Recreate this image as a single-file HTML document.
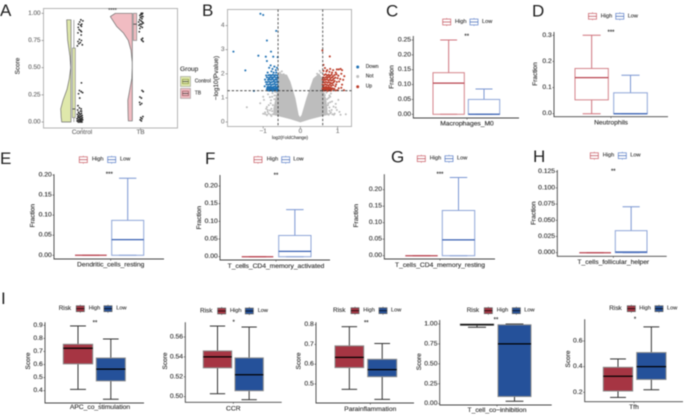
<!DOCTYPE html>
<html lang="en">
<head>
<meta charset="utf-8">
<title>Immune infiltration figure</title>
<style>
html,body{margin:0;padding:0;background:#fff;width:685px;height:415px;overflow:hidden}
svg{display:block;filter:blur(.42px);font-family:"Liberation Sans",sans-serif}
</style>
</head>
<body>
<svg id="fig" xmlns="http://www.w3.org/2000/svg" width="685" height="415" viewBox="0 0 685 415">
<rect width="685" height="415" fill="#fff"/>
<g font-size="17" fill="#222">
<text x="0" y="16">A</text>
<text x="202" y="16">B</text>
<text x="386" y="16.5">C</text>
<text x="532" y="16.5">D</text>
<text x="0" y="164">E</text>
<text x="205" y="164">F</text>
<text x="391" y="162.5">G</text>
<text x="533" y="162">H</text>
<text x="1" y="304">I</text>
</g>
</svg>
<script>
/* ---------- Panel A data ---------- */
const groupCategories = ['Control', 'TB'];
const scoreTicks = [0, 0.25, 0.5, 0.75, 1];
const controlDensityScore = [0, 0.04, 0.12, 0.2, 0.3, 0.4, 0.5, 0.6, 0.75, 0.85, 0.94];
const controlDensity = [9.3, 9.8, 10.3, 8, 4, 1.7, 0.3, 1, 3.3, 3.9, 4.3];
const tbDensityScore = [0.01, 0.1, 0.2, 0.3, 0.4, 0.5, 0.55, 0.66, 0.75, 0.82, 0.88, 0.97, 1];
const tbDensity = [4, 4.3, 4.5, 2.5, 0.5, 0.1, 0.1, 1.3, 4, 9, 15.7, 22, 17];
const controlBox = [0, 0.04, 0.12, 0.68, 0.94];
const tbBox = [0.75, 0.75, 0.9, 1, 1];
const controlScores = [.94,.93,.92,.90,.90,.89,.88,.87,.85,.84,.83,.82,.80,.76,.75,.74,.73,.72,.71,.70,.36,.29,.28,.27,.26,.22,.15,.13,.12,.11,.10,.09,.08,.07,.07,.06,.06,.05,.05,.04,.04,.03,.03,.03,.02,.02,.02,.01,.01,.01,0,0,0,0,.01,.02,.03,.04,.05,.06,.08,.1];
const controlJitter = [.3,1,-.1,.6,-.5,.2,.5,-.6,-.3,.2,.5,-.7,.4,-.2,.5,-.7,.1,-.4,.8,-.9,.5,-.2,.4,.9,-.5,-.1,-.7,-.2,.4,-.8,.2,-.5,.5,-.9,.1,-.4,.7,-.7,.3,-.2,.8,-1,.1,.6,-.5,.3,.9,-.8,0,.5,-.6,-.2,.3,.7,-1,-.3,.5,-.6,.1,.7,-.3,.5];
const tbScores = [1,1,.99,.99,.98,.97,.97,.96,.95,.94,.93,.92,.92,.91,.90,.90,.89,.88,.87,.86,.83,.77,.76,.75,.74,.29,.28,.23,.22,.18,.17,.16,.05,.04,.03,.02,.01];
const tbJitter = [.3,.7,.1,.5,-.2,.4,.8,0,.5,-.3,.2,-.6,.6,.9,-.1,.4,-.5,.1,.6,-.2,-.4,.7,.3,.5,.9,.5,.9,-.2,.3,-.3,.4,-.1,.8,.1,.5,-.1,.3];

/* ---------- Panel B data ---------- */
const volcanoFcTicks = [-1, 0, 1];
const volcanoPTicks = [0, 1, 2, 3, 4];
const fcThresholds = [-0.6, 0.6];
const pThreshold = [1.3];
const notEnvelopeFc = [-.59,-.366,-.277,-.142,-.054,-.01,.04,.17,.35,.5,.59,.59,.68,.72,.72,.5,.25,0,-.25,-.5,-.72,-.72,-.66,-.59,-.59];
const notEnvelopeP = [2.02,1.95,1.67,.98,.29,.18,.29,.98,1.8,2.0,1.8,1.3,1.0,.55,.3,.22,.12,0,.12,.22,.3,.55,1.0,1.3,1.9];
const notFc = [-1.44,-.82,-1,-1.08,-.88,1.22,1.02,.8,.89,.98,.75,.66,-.75,-.79,-.7,-.85,-.95,-.9,-.78,-.68,-.74,-.87,.74,.82,.78,.9,.85,.7,.95,1.05,.68,.63,-.63,-.65,-.55,-.5,.52,.55,.45,-.45,-.78,-.9,.82,.76,-.98,1.08,-.8,-.85,-.9,-.95,-1,-.76,-.82,-.88,.76,.8,.86,.92,.78,.84,-.74,-.8,.74,.8,-.7,-.76,.72,.78,-.92,.95];
const notP = [.61,1.03,1.05,.78,.5,.32,.92,1.05,.64,.5,.78,1.12,1.2,.9,1.1,.7,.4,.28,.55,1.25,.32,1.15,.33,.4,.6,.3,.85,1.22,.75,.42,.85,1.2,1.22,1.1,2.05,2.1,2.12,2.05,2.0,1.98,.25,.62,1.18,1.0,.92,.3,.3,.35,.3,.33,.34,.45,.48,.42,.3,.36,.32,.35,.46,.5,.7,.78,.7,.82,.95,1.05,.95,1.1,.55,.6];
const downFc = [-1.075,-1,-.65,-.9,-1.8,-.79,-1.13,-.93,-.73,-1.48,-1.25,-.9,-.61,-.84,-.8,-.75,-.7,-.66,-.78,-.72,-.63,-.88,-.65,-.92,-.86,-.82,-.78,-.74,-.7,-.66,-.62,-.61,-.9,-.85,-.81,-.77,-.73,-.69,-.65,-.61,-.95,-.87,-.83,-.79,-.75,-.71,-.67,-.63,-.93,-.89,-.84,-.8,-.76,-.72,-.68,-.64,-.6,-.91,-.86,-.82,-.78,-.74,-.7,-.66,-.62,-.96,-.88,-.84,-.8,-.76,-.72,-.68,-.64,-.6,-.9,-.85,-.81,-.77,-.73,-.69,-.65,-.61,-.87,-.83,-.79,-.75,-.71,-.67,-.63,-.6,-.89,-.86,-.82,-.78,-.74,-.7,-.66,-.62];
const downP = [4.49,4.44,3.78,3.38,2.92,2.92,2.75,2.71,2.71,2.14,1.29,2.53,2.69,2.25,2.35,2.2,2.3,2.15,2.1,2.05,2.25,2.05,2.05,1.93,1.94,1.95,1.93,1.96,1.94,1.95,1.93,1.84,1.85,1.83,1.86,1.84,1.85,1.87,1.83,1.85,1.76,1.75,1.77,1.75,1.78,1.74,1.76,1.75,1.66,1.65,1.67,1.64,1.66,1.68,1.65,1.66,1.67,1.56,1.55,1.57,1.54,1.56,1.58,1.55,1.56,1.48,1.46,1.45,1.47,1.44,1.46,1.48,1.45,1.46,1.36,1.38,1.35,1.37,1.34,1.36,1.38,1.35,1.31,1.3,1.32,1.29,1.31,1.33,1.3,1.32,1.42,1.41,1.4,1.42,1.41,1.39,1.41,1.42];
const upFc = [.59,.79,.62,.66,.72,.8,.85,.88,.98,1.03,1.08,1.12,.95,.78,.7,.62,.64,.68,.72,.76,.8,.84,.88,.92,.97,1.02,1.1,1.18,.61,.65,.69,.73,.77,.81,.85,.9,.94,1,1.07,1.15,.6,.63,.67,.71,.75,.79,.83,.87,.92,.98,1.04,.61,.65,.69,.73,.77,.81,.85,.89,.96,1.12,.6,.63,.67,.71,.75,.79,.83,.88,.94,1.03,.61,.65,.69,.73,.77,.81,.86,.91,1,.6,.63,.67,.71,.75,.79,.84,.9,1.17,.61,.65,.69,.73,.77,.82,.6,.64,.68,.72,.76,.8,.95,1.1];
const upP = [2.97,2.72,2.37,2.24,2.15,2.2,2.05,2.15,2.18,2.18,2.2,2.15,2.05,2.08,2.1,2.12,1.95,1.98,1.93,1.96,1.92,1.97,1.9,1.95,1.98,1.92,2.0,1.9,1.85,1.83,1.86,1.84,1.87,1.82,1.85,1.8,1.84,1.82,1.78,1.75,1.76,1.74,1.75,1.77,1.73,1.75,1.72,1.74,1.7,1.66,1.68,1.65,1.64,1.66,1.63,1.65,1.62,1.6,1.64,1.56,1.55,1.55,1.53,1.56,1.54,1.52,1.55,1.5,1.53,1.48,1.4,1.45,1.44,1.46,1.43,1.45,1.42,1.4,1.38,1.32,1.36,1.35,1.37,1.34,1.36,1.33,1.35,1.36,1.32,1.31,1.3,1.32,1.29,1.31,1.3,1.39,1.4,1.41,1.39,1.4,1.38,1.31,1.42];

/* ---------- Box plot data: [min, q1, median, q3, max] ---------- */
const macrophagesTicks = [0, .05, .1, .15, .2, .25];
const macrophagesHigh = [0, 0, .105, .14, .25];
const macrophagesLow = [0, 0, 0, .05, .085];
const neutrophilsTicks = [0, .1, .2, .3];
const neutrophilsHigh = [0, .053, .138, .173, .3];
const neutrophilsLow = [0, 0, 0, .08, .147];
const dendriticTicks = [0, .05, .1, .15, .2];
const dendriticHigh = [0, 0, 0, 0, 0];
const dendriticLow = [0, 0, .039, .087, .192];
const cd4ActivatedTicks = [0, .05, .1, .15, .2];
const cd4ActivatedHigh = [0, 0, 0, 0, 0];
const cd4ActivatedLow = [0, 0, .015, .06, .133];
const cd4RestingTicks = [0, .05, .1, .15, .2];
const cd4RestingHigh = [0, 0, 0, 0, 0];
const cd4RestingLow = [0, 0, .048, .137, .237];
const follicularTicks = [0, .025, .05, .075, .1, .125];
const follicularHigh = [0, 0, 0, 0, 0];
const follicularLow = [0, 0, .001, .034, .071];
const apcTicks = [.4, .5, .6, .7, .8, .9];
const apcHigh = [.41, .605, .725, .755, .895];
const apcLow = [.335, .475, .565, .65, .795];
const ccrTicks = [.5, .52, .54, .56];
const ccrHigh = [.503, .529, .54, .546, .571];
const ccrLow = [.497, .506, .522, .539, .57];
const paraTicks = [.5, .6, .7, .8];
const paraHigh = [.473, .583, .635, .693, .79];
const paraLow = [.422, .537, .573, .625, .705];
const inhibitionTicks = [0, .25, .5, .75, 1];
const inhibitionHigh = [.96, .985, .99, 1, 1];
const inhibitionLow = [.03, .09, .75, .99, 1];
const tfhTicks = [.2, .4, .6];
const tfhHigh = [.16, .21, .325, .395, .46];
const tfhLow = [.22, .30, .40, .51, .71];

/* ---------- Helpers ---------- */
const root = document.getElementById('fig');
const NS = 'http://www.w3.org/2000/svg';
function mk(parent, tag, attrs) {
  const el = document.createElementNS(NS, tag);
  for (const k in attrs) el.setAttribute(k, attrs[k]);
  parent.appendChild(el);
  return el;
}
function txt(parent, str, x, y, size, fill, anchor, rot) {
  const el = mk(parent, 'text', {x: x, y: y, 'font-size': size, fill: fill, stroke: fill, 'stroke-width': .12, 'text-anchor': anchor || 'start', 'dominant-baseline': 'central'});
  if (rot) el.setAttribute('transform', 'rotate(' + rot + ' ' + x + ' ' + y + ')');
  el.textContent = str;
  return el;
}
function linear(d0, d1, r0, r1) {
  return v => r0 + (v - d0) * (r1 - r0) / (d1 - d0);
}

/* ---------- Panel A ---------- */
(function () {
  const g = mk(root, 'g', {});
  
  
  const y = linear(scoreTicks[0], scoreTicks[scoreTicks.length - 1], 122, 13.3);
  const xCenter = {Control: 82, TB: 140.5};
  const frame = mk(g, 'rect', {x: 43.5, y: 8.5, width: 134, height: 119.5, fill: 'none', stroke: '#b5b5b5', 'stroke-width': 1});
  
  
  scoreTicks.forEach(t => {
    const tick = mk(g, 'line', {x1: 41.5, x2: 43.5, y1: y(t), y2: y(t), stroke: '#777', 'stroke-width': .6});
    
    
    const lab = txt(g, t.toFixed(2), 40.5, y(t), 6.3, '#666', 'end');
    
    
  });
  const title = txt(g, 'Score', 18, 66, 6.4, '#333', 'middle', -90);
  
  
  groupCategories.forEach(c => {
    const tick = mk(g, 'line', {x1: xCenter[c], x2: xCenter[c], y1: 128, y2: 130, stroke: '#777', 'stroke-width': .6});
    
    
    const lab = txt(g, c, xCenter[c], 132.5, 6.3, '#666', 'middle');
    
    
  });
  function violin(name, scores, dens, base, fill) {
    let d = 'M' + base + ' ' + y(scores[0]);
    scores.forEach((s, i) => { d += 'L' + (base - dens[i]) + ' ' + y(s); });
    d += 'L' + base + ' ' + y(scores[scores.length - 1]) + 'Z';
    const p = mk(g, 'path', {d: d, fill: fill, stroke: '#6f6f6f', 'stroke-width': .7, 'stroke-linejoin': 'round'});
    
    
  }
  violin('control', controlDensityScore, controlDensity, 71, '#dfe8ab');
  violin('tb', tbDensityScore, tbDensity, 132.3, '#f1bcc2');
  function box(name, s, x0, x1, fill) {
    const xm = (x0 + x1) / 2;
    const w = mk(g, 'line', {x1: xm, x2: xm, y1: y(s[0]), y2: y(s[4]), stroke: '#888', 'stroke-width': .7});
    
    
    const r = mk(g, 'rect', {x: x0, width: x1 - x0, y: y(s[3]), height: y(s[1]) - y(s[3]), fill: fill, stroke: '#888', 'stroke-width': .7});
    
    
    const m = mk(g, 'line', {x1: x0, x2: x1, y1: y(s[2]), y2: y(s[2]), stroke: '#444', 'stroke-width': .9});
    
    
  }
  box('control', controlBox, 72.4, 75.3, '#dfe8ab');
  box('tb', tbBox, 133.3, 136.7, '#f1bcc2');
  function jitter(name, scores, jit, cx, spread) {
    scores.forEach((s, i) => {
      const c = mk(g, 'circle', {cx: cx + jit[i] * spread, cy: y(s), r: .9, fill: '#2d2d2d'});
      
      
    });
  }
  jitter('control', controlScores, controlJitter, 80, 2.9);
  jitter('tb', tbScores, tbJitter, 140.5, 3);
  const stars = txt(g, '****', 112.5, 11, 5.5, '#444', 'middle');
  
  
  const lt = txt(g, 'Group', 180, 69.5, 6.6, '#333');
  
  
  [['Control', 76.5, '#dfe8ab', '#7d8a30'], ['TB', 88.4, '#f1bcc2', '#8a4750']].forEach(e => {
    const r = mk(g, 'rect', {x: 180.5, y: e[1], width: 10, height: 10, fill: e[2], stroke: '#999', 'stroke-width': .6});
    
    
    const bx = mk(g, 'rect', {x: 182.5, y: e[1] + 2.8, width: 6, height: 4.4, fill: 'none', stroke: e[3], 'stroke-width': .6});
    
    
    const m = mk(g, 'line', {x1: 182.5, x2: 188.5, y1: e[1] + 5, y2: e[1] + 5, stroke: '#333', 'stroke-width': .7});
    
    
    const t = txt(g, e[0], 194.7, e[1] + 5, 5, '#333');
    
    
  });
})();

/* ---------- Panel B ---------- */
(function () {
  const g = mk(root, 'g', {});
  
  
  const x = linear(-1, 1, 263.2, 337.6);
  const y = linear(0, 4, 122, 25.6);
  const frame = mk(g, 'rect', {x: 227.5, y: 9.5, width: 124, height: 117, fill: 'none', stroke: '#b5b5b5', 'stroke-width': 1});
  
  
  volcanoPTicks.forEach(t => {
    const tick = mk(g, 'line', {x1: 225.5, x2: 227.5, y1: y(t), y2: y(t), stroke: '#777', 'stroke-width': .6});
    
    
    const lab = txt(g, String(t), 224.5, y(t), 6.4, '#777', 'end');
    
    
  });
  volcanoFcTicks.forEach(t => {
    const tick = mk(g, 'line', {x1: x(t), x2: x(t), y1: 126.5, y2: 128.5, stroke: '#777', 'stroke-width': .6});
    
    
    const lab = txt(g, t < 0 ? '\u2212' + (-t) : String(t), x(t), 131.5, 6.4, '#777', 'middle');
    
    
  });
  const xt = txt(g, 'log2(FoldChange)', 290, 137.5, 4.5, '#444', 'middle');
  
  
  const yt = txt(g, '\u2212log10(Pvalue)', 216.5, 78, 6.6, '#333', 'middle', -90);
  
  
  const area = mk(g, 'path', {d: notEnvelopeFc.map((f, i) => (i ? 'L' : 'M') + x(f) + ' ' + y(notEnvelopeP[i])).join('') + 'Z', fill: '#bdbdbd', stroke: '#bdbdbd', 'stroke-width': .6});
  
  
  notFc.forEach((f, i) => {
    const c = mk(g, 'circle', {cx: x(f), cy: y(notP[i]), r: 1, fill: '#bdbdbd'});
    
    
  });
  downFc.forEach((f, i) => {
    const c = mk(g, 'circle', {cx: x(f), cy: y(downP[i]), r: 1.05, fill: '#2273b5'});
    
    
  });
  upFc.forEach((f, i) => {
    const c = mk(g, 'circle', {cx: x(f), cy: y(upP[i]), r: 1.05, fill: '#bd3f2c'});
    
    
  });
  fcThresholds.forEach(f => {
    const l = mk(g, 'line', {x1: x(f), x2: x(f), y1: 9.5, y2: 126.5, stroke: '#333', 'stroke-width': .8, 'stroke-dasharray': '2.4 1.8'});
    
    
  });
  pThreshold.forEach(p => {
    const l = mk(g, 'line', {x1: 227.5, x2: 351.5, y1: y(p), y2: y(p), stroke: '#333', 'stroke-width': .8, 'stroke-dasharray': '2.4 1.8'});
    
    
  });
  [['Down', 67, '#2273b5'], ['Not', 76.5, '#bdbdbd'], ['Up', 86.7, '#bd3f2c']].forEach(e => {
    const c = mk(g, 'circle', {cx: 357.7, cy: e[1], r: 1.5, fill: e[2]});
    
    
    const t = txt(g, e[0], 365.7, e[1], 5, '#333');
    
    
  });
})();

/* ---------- Box plot panels ---------- */
function boxPanel(p) {
  const g = mk(root, 'g', {});
  
  
  const c = p.filled
    ? {hs: '#8c8c8c', ls: '#8c8c8c', hw: '#333', lw: '#333', hm: '#000', lm: '#000', hf: '#a63543', lf: '#25519a'}
    : {hs: '#d4848b', ls: '#8fa6d8', hw: '#cf737c', lw: '#7a96d2', hm: '#b8434f', lm: '#3860b2', hf: 'none', lf: 'none'};
  const t = p.ticks;
  const y = linear(t[0], t[t.length - 1], p.y0, p.y1);
  const ax = mk(g, 'path', {d: 'M' + p.left + ' ' + p.top + 'V' + p.bottom + 'H' + p.right, fill: 'none', stroke: '#444', 'stroke-width': .9});
  
  
  t.forEach(v => {
    const tk = mk(g, 'line', {x1: p.left - 1.6, x2: p.left, y1: y(v), y2: y(v), stroke: '#444', 'stroke-width': .6});
    
    
    const lb = txt(g, v.toFixed(p.digits), p.left - 2.2, y(v), 6.8, '#2b2b2b', 'end');
    
    
  });
  const xtk = mk(g, 'line', {x1: p.center, x2: p.center, y1: p.bottom, y2: p.bottom + 1.6, stroke: '#444', 'stroke-width': .6});
  
  
  const xl = txt(g, p.label, p.center, p.labelY, 6.7, '#2b2b2b', 'middle');
  
  
  const yl = txt(g, p.title, p.titleX, p.titleY, 6.5, '#2b2b2b', 'middle', -90);
  
  
  function box(name, s, x0, x1, stroke, whisk, med, fill) {
    const xm = (x0 + x1) / 2, cap = (x1 - x0) * .27;
    const w1 = mk(g, 'line', {x1: xm, x2: xm, y1: y(s[0]), y2: y(s[1]), stroke: whisk, 'stroke-width': 1});
    
    
    const w2 = mk(g, 'line', {x1: xm, x2: xm, y1: y(s[3]), y2: y(s[4]), stroke: whisk, 'stroke-width': 1});
    
    
    const c1 = mk(g, 'line', {x1: xm - cap, x2: xm + cap, y1: y(s[0]), y2: y(s[0]), stroke: whisk, 'stroke-width': 1});
    
    
    const c2 = mk(g, 'line', {x1: xm - cap, x2: xm + cap, y1: y(s[4]), y2: y(s[4]), stroke: whisk, 'stroke-width': 1});
    
    
    const r = mk(g, 'rect', {x: x0, width: x1 - x0, y: y(s[3]), height: Math.max(0, y(s[1]) - y(s[3])), fill: fill, stroke: stroke, 'stroke-width': 1});
    
    
    const m = mk(g, 'line', {x1: x0, x2: x1, y1: y(s[2]), y2: y(s[2]), stroke: med, 'stroke-width': 1.25});
    
    
  }
  box('high', p.high, p.hx[0], p.hx[1], c.hs, c.hw, c.hm, c.hf);
  box('low', p.low, p.lx[0], p.lx[1], c.ls, c.lw, c.lm, c.lf);
  const st = txt(g, p.stars, p.starX, p.starY, 6, '#333', 'middle');
  
  
  if (p.riskX !== undefined) {
    const rk = txt(g, 'Risk', p.riskX, p.legY, 6.4, '#333');
    
    
  }
  function key(name, x0, tx, stroke, fill, med) {
    const st2 = mk(g, 'line', {x1: x0 + 4, x2: x0 + 4, y1: p.legY - 4, y2: p.legY + 4, stroke: p.filled ? '#444' : stroke, 'stroke-width': .6});
    
    
    const r = mk(g, 'rect', {x: x0, y: p.legY - 2.9, width: 8, height: 5.8, fill: p.filled ? fill : '#fff', stroke: stroke, 'stroke-width': .8});
    
    
    const m = mk(g, 'line', {x1: x0, x2: x0 + 8, y1: p.legY, y2: p.legY, stroke: med, 'stroke-width': .7});
    
    
    const t2 = txt(g, name === 'high' ? 'High' : 'Low', tx, p.legY, 5.6, '#333');
    
    
  }
  key('high', p.keys[0], p.keys[1], p.filled ? '#666' : '#cf6e76', c.hf, c.hm);
  key('low', p.keys[2], p.keys[3], p.filled ? '#666' : '#6f8ecf', c.lf, c.lm);
}

boxPanel({id:'macrophages', label:'Macrophages_M0', title:'Fraction', ticks:macrophagesTicks, high:macrophagesHigh, low:macrophagesLow, digits:2,
  left:413.3, right:519, top:36, bottom:118, y0:114.3, y1:40, hx:[433,464.3], lx:[468.3,499.7], center:467, labelY:124, titleX:392, titleY:77,
  stars:'**', starX:466.7, starY:37, legY:22, keys:[442.7,455,470,482]});
boxPanel({id:'neutrophils', label:'Neutrophils', title:'Fraction', ticks:neutrophilsTicks, high:neutrophilsHigh, low:neutrophilsLow, digits:1,
  left:554, right:668, top:32, bottom:116.7, y0:113.7, y1:35.3, hx:[575,608.3], lx:[613.7,647.3], center:611, labelY:123, titleX:535.7, titleY:74,
  stars:'***', starX:611, starY:33, legY:16.3, keys:[588.5,600.7,615.8,627.7]});
boxPanel({id:'dendritic-cells', label:'Dendritic_cells_resting', title:'Fraction', ticks:dendriticTicks, high:dendriticHigh, low:dendriticLow, digits:2,
  left:54, right:164, top:174.3, bottom:259, y0:255.3, y1:175, hx:[75,106.7], lx:[111.7,143.7], center:110.7, labelY:265, titleX:33, titleY:215.7,
  stars:'***', starX:109.3, starY:175, legY:159.7, keys:[79.3,92,107.7,120]});
boxPanel({id:'cd4-activated', label:'T_cells_CD4_memory_activated', title:'Fraction', ticks:cd4ActivatedTicks, high:cd4ActivatedHigh, low:cd4ActivatedLow, digits:2,
  left:220, right:330, top:175, bottom:260, y0:256.7, y1:186, hx:[241.7,273.3], lx:[278.7,311], center:276, labelY:266.7, titleX:199.3, titleY:217.7,
  stars:'**', starX:276, starY:176, legY:159.7, keys:[254,266.7,281.7,293.3]});
boxPanel({id:'cd4-resting', label:'T_cells_CD4_memory_resting', title:'Fraction', ticks:cd4RestingTicks, high:cd4RestingHigh, low:cd4RestingLow, digits:2,
  left:384.3, right:495, top:174.3, bottom:259, y0:255.7, y1:189.7, hx:[405.3,437.7], lx:[442.3,474.7], center:440, labelY:265.7, titleX:356.7, titleY:215.7,
  stars:'***', starX:440, starY:175, legY:158.7, keys:[417.3,429.7,445,457]});
boxPanel({id:'follicular-helper', label:'T_cells_follicular_helper', title:'Fraction', ticks:follicularTicks, high:follicularHigh, low:follicularLow, digits:3,
  left:557.3, right:666.7, top:170, bottom:256.3, y0:252.7, y1:171.7, hx:[579.3,611], lx:[615.3,647], center:613.3, labelY:262.3, titleX:534, titleY:213.3,
  stars:'**', starX:613.3, starY:172, legY:155.7, keys:[590.3,602.7,618.3,630.3]});
boxPanel({id:'apc-co-stimulation', filled:true, label:'APC_co_stimulation', title:'Score', ticks:apcTicks, high:apcHigh, low:apcLow, digits:1,
  left:45, right:144, top:322.3, bottom:403, y0:390.7, y1:325.3, hx:[63.3,92.7], lx:[96.3,125.3], center:100, labelY:407.7, titleX:28.3, titleY:361,
  stars:'**', starX:95, starY:323.5, legY:308.7, riskX:58.7, keys:[76.3,88.7,104,116.3]});
boxPanel({id:'ccr', filled:true, label:'CCR', title:'Score', ticks:ccrTicks, high:ccrHigh, low:ccrLow, digits:2,
  left:185.3, right:281.7, top:322.3, bottom:402.3, y0:396.7, y1:337, hx:[203.3,231.7], lx:[235,263.3], center:233.3, labelY:409, titleX:165.3, titleY:361,
  stars:'*', starX:233.7, starY:323, legY:311, riskX:200, keys:[217.7,230,245.3,257.7]});
boxPanel({id:'parainflammation', filled:true, label:'Parainflammation', title:'Score', ticks:paraTicks, high:paraHigh, low:paraLow, digits:1,
  left:316, right:414, top:322.3, bottom:403, y0:384, y1:324.7, hx:[335,363.7], lx:[367.7,396.7], center:370.3, labelY:409.3, titleX:299, titleY:361,
  stars:'**', starX:366.3, starY:323.5, legY:310.7, riskX:333, keys:[351,363.3,379,391]});
boxPanel({id:'t-cell-co-inhibition', filled:true, label:'T_cell_co\u2212inhibition', title:'Score', ticks:inhibitionTicks, high:inhibitionHigh, low:inhibitionLow, digits:2,
  left:439.7, right:551.7, top:320, bottom:405, y0:403.7, y1:324, hx:[460.3,493.7], lx:[498,531], center:497, labelY:410.7, titleX:419.3, titleY:361.7,
  stars:'**', starX:496, starY:320.5, legY:310.7, riskX:466.7, keys:[484.3,496.7,512.3,524.3]});
boxPanel({id:'tfh', filled:true, label:'Tfh', title:'Score', ticks:tfhTicks, high:tfhHigh, low:tfhLow, digits:1,
  left:584.7, right:683, top:319.3, bottom:401.7, y0:392.3, y1:341, hx:[603.3,632.7], lx:[636.7,666], center:634, labelY:407.7, titleX:568.3, titleY:359,
  stars:'*', starX:635, starY:320, legY:308.7, riskX:609.3, keys:[627.3,639.3,655,667]});
</script>
</body>
</html>
